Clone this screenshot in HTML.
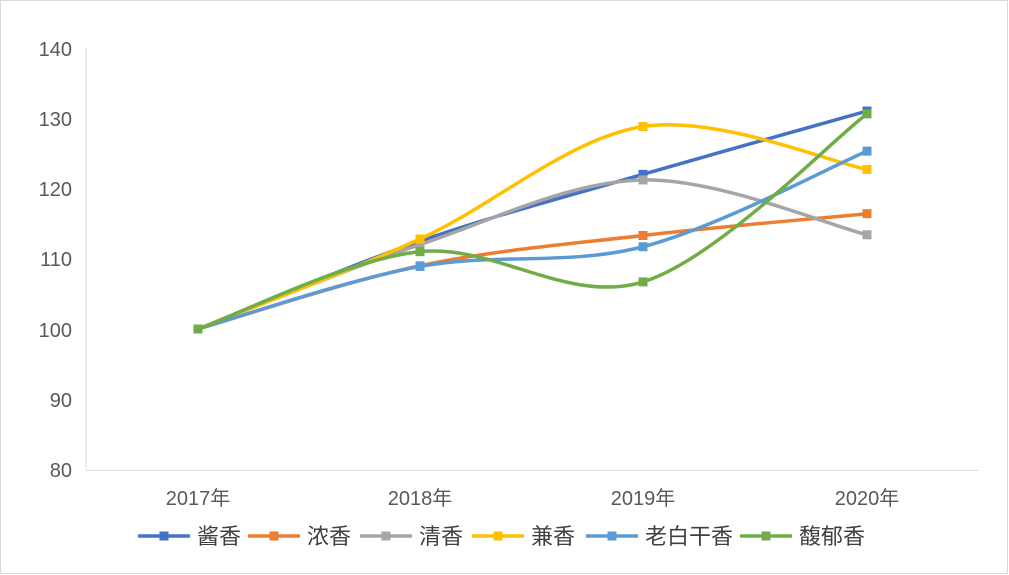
<!DOCTYPE html>
<html><head><meta charset="utf-8"><style>
html,body{margin:0;padding:0;background:#fff}
svg{display:block;font-family:"Liberation Sans","Noto Sans CJK SC",sans-serif}
</style></head><body>
<svg id="s" width="1009" height="575" xmlns="http://www.w3.org/2000/svg">
<rect x="0.5" y="0.5" width="1007" height="573" fill="#fff" stroke="#d9d9d9"/>
<line x1="86" y1="48" x2="86" y2="470" stroke="#d9d9d9"/>
<line x1="86" y1="470.5" x2="978" y2="470.5" stroke="#d9d9d9"/>
<g fill="#595959" font-size="20" text-anchor="end">
<text x="72" y="56">140</text><text x="72" y="126">130</text><text x="72" y="196">120</text>
<text x="72" y="266">110</text><text x="72" y="337">100</text><text x="72" y="407">90</text><text x="72" y="477">80</text>
</g>
<g fill="#595959" font-size="20" text-anchor="middle">
<text x="198" y="505">2017年</text><text x="420" y="505">2018年</text><text x="643" y="505">2019年</text><text x="867" y="505">2020年</text>
</g>
<g id="series"></g>
<g id="legend" font-size="22" fill="#404040"></g>
</svg>
<script>
var xs=[198,420,643,867];
function Y(v){return 329-(v-100)*7.03;}
var data=[
["酱香","#4472C4",[100,112.5,122,131]],
["浓香","#ED7D31",[100,109,113.3,116.4]],
["清香","#A5A5A5",[100,112,121.2,113.4]],
["兼香","#FFC000",[100,112.8,128.8,122.7]],
["老白干香","#5B9BD5",[100,108.9,111.7,125.3]],
["馥郁香","#70AD47",[100,111,106.7,130.6]]];
var ns="http://www.w3.org/2000/svg",g=document.getElementById("series"),lg=document.getElementById("legend");
var lx=[138,248,360,472,586,740];
data.forEach(function(d,k){
 var p=d[2].map(function(v,i){return [xs[i],Y(v)];});
 var s="M"+p[0][0]+","+p[0][1];
 for(var i=0;i<3;i++){
  var p0=p[Math.max(i-1,0)],p1=p[i],p2=p[i+1],p3=p[Math.min(i+2,3)];
  var t=1/6;
  s+=" C"+(p1[0]+(p2[0]-p0[0])*t)+","+(p1[1]+(p2[1]-p0[1])*t)+" "+(p2[0]-(p3[0]-p1[0])*t)+","+(p2[1]-(p3[1]-p1[1])*t)+" "+p2[0]+","+p2[1];
 }
 var path=document.createElementNS(ns,"path");
 path.setAttribute("d",s);path.setAttribute("fill","none");path.setAttribute("stroke",d[1]);path.setAttribute("stroke-width","3.5");path.setAttribute("stroke-linecap","round");
 g.appendChild(path);
 p.forEach(function(q){var r=document.createElementNS(ns,"rect");r.setAttribute("x",q[0]-4.5);r.setAttribute("y",q[1]-4.5);r.setAttribute("width",9);r.setAttribute("height",9);r.setAttribute("fill",d[1]);g.appendChild(r);});
 var x=lx[k];
 var l=document.createElementNS(ns,"line");l.setAttribute("x1",x);l.setAttribute("x2",x+52);l.setAttribute("y1",536);l.setAttribute("y2",536);l.setAttribute("stroke",d[1]);l.setAttribute("stroke-width","3.5");lg.appendChild(l);
 var r=document.createElementNS(ns,"rect");r.setAttribute("x",x+21.5);r.setAttribute("y",531.5);r.setAttribute("width",9);r.setAttribute("height",9);r.setAttribute("fill",d[1]);lg.appendChild(r);
 var t=document.createElementNS(ns,"text");t.setAttribute("x",x+59);t.setAttribute("y",544);t.textContent=d[0];lg.appendChild(t);
});
</script>
</body></html>
